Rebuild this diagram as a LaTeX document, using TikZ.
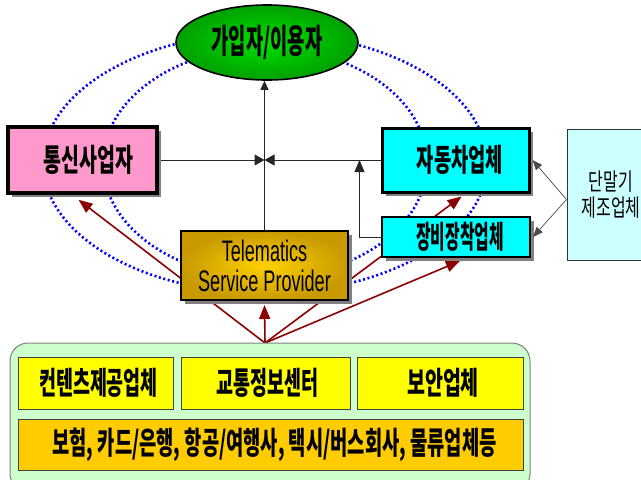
\documentclass[tikz,border=0pt]{standalone}
\usepackage{fontspec}
\usepackage{graphicx}
\setmainfont{Liberation Sans}
\newfontfamily\krf{Noto Sans CJK KR}
\usetikzlibrary{shapes.geometric,arrows.meta,shadows,calc}
\pgfdeclarelayer{bg}
\pgfsetlayers{bg,main}
\definecolor{pinkc}{HTML}{FF99CC}
\definecolor{cyanc}{HTML}{00FFFF}
\definecolor{lcyan}{HTML}{CCFFFF}
\definecolor{greenin}{HTML}{00E000}
\definecolor{greenout}{HTML}{00A000}
\definecolor{goldin}{HTML}{FFD000}
\definecolor{goldout}{HTML}{C89A00}
\definecolor{lgreen}{HTML}{CCFFCC}
\definecolor{yel}{HTML}{FFFF00}
\definecolor{orng}{HTML}{FFCC00}
\definecolor{dred}{HTML}{8B0000}
\definecolor{dotblue}{HTML}{0000FF}
\newcommand{\kt}[3]{\scalebox{#2}[1.2]{\krf\bfseries\fontsize{#1}{#1}\selectfont #3}}
\newcommand{\ktl}[3]{\scalebox{#2}[1.25]{\krf\fontsize{#1}{#1}\selectfont #3}}
\begin{document}
\begin{tikzpicture}[x=1pt,y=-1pt,
  shad/.style={drop shadow={shadow xshift=4pt,shadow yshift=-4pt,fill=black!50,opacity=1}},
  bx/.style={draw=black,inner sep=0pt,shad},
  lowbox/.style={draw=black!75,line width=1pt,inner sep=0pt},
  redarrow/.style={draw=dred,line width=1.6pt,-{Triangle[length=14pt,width=11pt]}},
  blk/.style={draw=black!85,line width=1pt},
  tip/.style={-{Triangle[length=10pt,width=11pt]}},
  dots/.style={draw=dotblue,line width=2.6pt,dash pattern=on 2pt off 2.6pt}
]
\useasboundingbox (0,0) rectangle (641,480);

% container
\node[draw=black!50,line width=1pt,fill=lgreen,rounded corners=18pt,minimum width=520pt,minimum height=149pt] (cont) at (270,417.5) {};
\node[lowbox,fill=yel,minimum width=155pt,minimum height=52pt] (cp) at (95.5,383) {\hspace*{6pt}\kt{26}{0.71}{컨텐츠제공업체}};
\node[lowbox,fill=yel,minimum width=169pt,minimum height=52pt] (tc) at (265.5,383) {\hspace*{4pt}\kt{26}{0.71}{교통정보센터}};
\node[lowbox,fill=yel,minimum width=166pt,minimum height=52pt] (sc) at (440,383) {\hspace*{6pt}\kt{26}{0.75}{보안업체}};
\node[lowbox,fill=orng,minimum width=505pt,minimum height=51pt] (etc) at (270.5,444.5) {\hspace*{8pt}\kt{26}{0.72}{보험, 카드/은행, 항공/여행사, 택시/버스회사, 물류업체등}};

% top ellipse
\node[ellipse,draw=black,line width=1.6pt,inner sep=0pt,minimum width=182pt,minimum height=75pt,
      shading=radial,inner color=greenin,outer color=greenout] (ell) at (267,42.5) {\kt{28}{0.67}{가입자/이용자}};

% boxes
\node[bx,line width=3.5pt,fill=pinkc,minimum width=149pt,minimum height=66pt] (tel) at (82.5,160) {\hspace*{12pt}\kt{26}{0.75}{통신사업자}};
\node[bx,line width=3pt,fill=cyanc,minimum width=147pt,minimum height=64pt] (car) at (455.5,160) {\hspace*{9pt}\kt{26}{0.72}{자동차업체}};
\node[bx,line width=2pt,fill=cyanc,minimum width=148pt,minimum height=40pt] (eq) at (456,237) {\hspace*{8pt}\kt{26}{0.61}{장비장착업체}};
\node[draw=black!80,line width=1pt,fill=lcyan,inner sep=0pt,minimum width=88pt,minimum height=131pt,align=center] (dan) at (611,194.5)
  {\ktl{19}{0.84}{단말기}\\[4pt]\ktl{19}{0.84}{제조업체}};
\node[bx,line width=2pt,shading=radial,inner color=goldin,outer color=goldout,minimum width=167pt,minimum height=69pt,align=center,
      font=\fontsize{27}{30}\selectfont] (tsp) at (264.5,265.5)
  {\scalebox{0.67}[1.1]{Telematics}\\\scalebox{0.67}[1.1]{Service Provider}};

\coordinate (conv) at (265,343);
\coordinate (vj) at ($(car.west)+(-21,0)$);

\begin{pgfonlayer}{bg}
  \fill[white] (0,0) rectangle (641,480);
  \draw[dots] (265,163) ellipse [x radius=222pt, y radius=130pt];
  \draw[dots] (265,163) ellipse [x radius=162pt, y radius=115pt];
  \draw[redarrow] (conv) -- ([xshift=-4pt,yshift=-5pt]tel.south);
  \draw[redarrow] (conv) -- ([yshift=-4pt]tsp.south);
  \draw[redarrow] (conv) -- ([xshift=6pt,yshift=-3pt]car.south);
  \draw[redarrow] (conv) -- ([xshift=4pt,yshift=-3pt]eq.south);
  \draw[blk,-{Triangle[length=9pt,width=8pt]}] (tsp.north) -- (tsp.north |- ell.south);
  \draw[blk,tip] (tel.east) -- (tel.east -| tsp.north);
  \draw[blk,tip] (car.west) -- (car.west -| tsp.north);
  \draw[blk,-{Triangle[length=12pt,width=10pt]}] (eq.west) -| (vj);
\end{pgfonlayer}

\draw[draw=black!70,line width=0.7pt,-{Triangle[length=10pt,width=8pt]}] ([yshift=-5pt]dan.west) -- ([xshift=2pt]car.east);
\draw[draw=black!70,line width=0.7pt,-{Triangle[length=10pt,width=8pt]}] ([yshift=-5pt]dan.west) -- ([xshift=2pt]eq.east);
\end{tikzpicture}
\end{document}
